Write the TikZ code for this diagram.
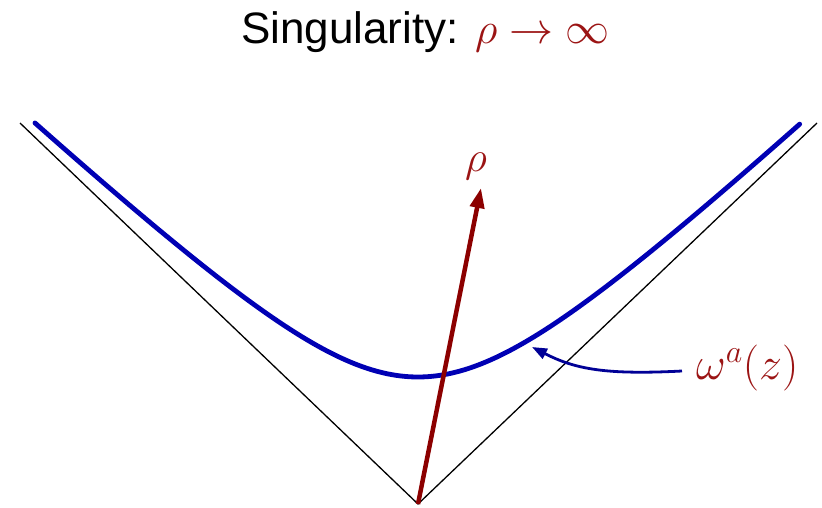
\RequirePackage{fix-cm}
\documentclass[tikz,border=0pt]{standalone}
\usepackage{fontspec}
\setmainfont{Liberation Sans}
\usetikzlibrary{arrows.meta}
\DeclareMathSizes{43}{43}{30}{22}
\DeclareMathSizes{44}{44}{31}{22}
\DeclareMathSizes{46}{46}{32}{23}
\definecolor{curveblue}{RGB}{0,0,180}
\definecolor{connblue}{RGB}{0,0,150}
\definecolor{arrowred}{RGB}{140,0,0}
\definecolor{textred}{RGB}{155,20,20}
\tikzset{
  asym/.style={black, line width=1.3pt},
  hyper/.style={curveblue, line width=4.8pt, line cap=round},
  rhoarrow/.style={arrowred, line width=4.5pt, -{Triangle[length=20pt,width=14pt]}},
  connector/.style={connblue, line width=2.8pt, -{Triangle[length=15pt,width=11pt]}},
  bigtext/.style={font=\fontsize{43}{50}\selectfont, inner sep=0pt},
  titletext/.style={font=\fontsize{44}{50}\selectfont, inner sep=0pt},
  labeltext/.style={font=\fontsize{46}{52}\selectfont, inner sep=0pt},
}
\begin{document}
\begin{tikzpicture}[x=1pt,y=-1pt]
\useasboundingbox (0,0) rectangle (822,507);
% apex and asymptote ends
\coordinate (apex) at (418,504);
\coordinate (lend) at (20,123);
\coordinate (rend) at (817,123);
\draw[asym] (lend) -- (apex) -- (rend);
% hyperbola
\draw[hyper] plot[domain=-1.763:1.760, samples=120, smooth]
  ({418+135.4*sinh(\x)},{504-127*cosh(\x)});
% rho arrow
\coordinate (rhotip) at (481,188);
\draw[rhoarrow] (apex) -- (rhotip);
\node[bigtext, text=textred, anchor=base] (rholabel) at (476,171) {$\rho$};
% title
\node[titletext, anchor=base] (title) at (425.5,43) {Singularity: \textcolor{textred}{$\rho \rightarrow \infty$}};
% omega label and connector
\node[labeltext, text=textred, anchor=base west] (omega) at (696,379) {$\omega^{a}(z)$};
\coordinate (oncurve) at (532,347);
\coordinate (cstart) at (682,371);
\draw[connector] (cstart) .. controls (605,375) and (575,369) .. (oncurve);
\end{tikzpicture}
\end{document}
